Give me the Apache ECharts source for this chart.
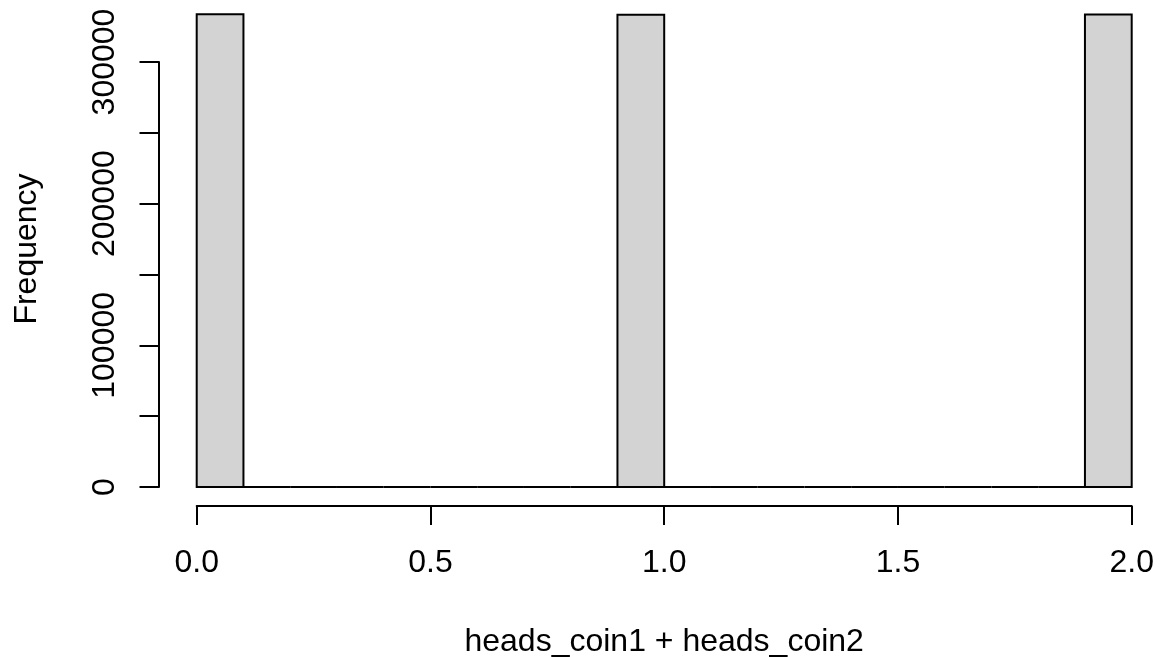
<!DOCTYPE html>
<html>
<head>
<meta charset="utf-8">
<script src="https://cdn.jsdelivr.net/npm/echarts@6/dist/echarts.min.js"></script>
<style>
  html, body { margin: 0; padding: 0; background: #fff; }
  #chart { width: 1160px; height: 657px; }
</style>
</head>
<body>
<div id="chart"></div>
<script>
// Histogram bin breaks (x) and counts per bin
const binBreaks = [0.0, 0.1, 0.2, 0.3, 0.4, 0.5, 0.6, 0.7, 0.8, 0.9, 1.0,
                   1.1, 1.2, 1.3, 1.4, 1.5, 1.6, 1.7, 1.8, 1.9, 2.0];
const binCounts = [333700, 0, 0, 0, 0, 0, 0, 0, 0, 333300,
                   0, 0, 0, 0, 0, 0, 0, 0, 0, 333600];
const xTicks = [0.0, 0.5, 1.0, 1.5, 2.0];
const yTicks = [0, 50000, 100000, 150000, 200000, 250000, 300000];
const yLabelled = [0, 100000, 200000, 300000];
const xTitle = 'heads_coin1 + heads_coin2';
const yTitle = 'Frequency';

const FONT = '"Liberation Sans", Arial, Helvetica, sans-serif';
const FS = 32;

const bins = binCounts.map((c, i) => [binBreaks[i], binBreaks[i + 1], c]);

const chart = echarts.init(document.getElementById('chart'), null, { renderer: 'canvas' });
chart.setOption({
  animation: false,
  backgroundColor: '#ffffff',
  grid: { left: 196.7, right: 28.3, top: 62, bottom: 170, containLabel: false, outerBoundsMode: 'none' },
  xAxis: {
    type: 'value',
    min: xTicks[0], max: xTicks[xTicks.length - 1], interval: 0.5,
    offset: 19,
    splitLine: { show: false },
    axisLine: { show: true, onZero: false, lineStyle: { color: '#000', width: 2 } },
    axisTick: { show: true, length: 19, lineStyle: { color: '#000', width: 2 } },
    axisLabel: {
      margin: 41, color: '#000', fontFamily: FONT, fontSize: FS,
      formatter: v => Number(v).toFixed(1)
    },
    name: xTitle, nameLocation: 'middle', nameGap: 120,
    nameTextStyle: { color: '#000', fontFamily: FONT, fontSize: FS }
  },
  yAxis: {
    type: 'value',
    min: yTicks[0], max: yTicks[yTicks.length - 1], interval: 50000,
    offset: 37.7,
    splitLine: { show: false },
    axisLine: { show: true, onZero: false, lineStyle: { color: '#000', width: 2 } },
    axisTick: { show: true, length: 19.5, lineStyle: { color: '#000', width: 2 } },
    axisLabel: {
      rotate: 90, margin: 38, color: '#000', fontFamily: FONT, fontSize: FS,
      formatter: v => (yLabelled.indexOf(v) >= 0 ? String(v) : '')
    }
  },
  graphic: [{
    type: 'text',
    x: 27, y: 249,
    rotation: Math.PI / 2,
    style: {
      text: yTitle, fill: '#000', font: FS + 'px ' + FONT,
      textAlign: 'center', textVerticalAlign: 'middle'
    }
  }],
  series: [{
    type: 'custom',
    clip: false,
    data: bins,
    encode: { x: [0, 1], y: 2 },
    renderItem: function (params, api) {
      const p0 = api.coord([api.value(0), 0]);
      const p1 = api.coord([api.value(1), api.value(2)]);
      return {
        type: 'rect',
        shape: { x: p0[0], y: p1[1], width: p1[0] - p0[0], height: p0[1] - p1[1] },
        style: { fill: '#d3d3d3', stroke: '#000', lineWidth: 2 }
      };
    }
  }]
});
</script>
</body>
</html>
